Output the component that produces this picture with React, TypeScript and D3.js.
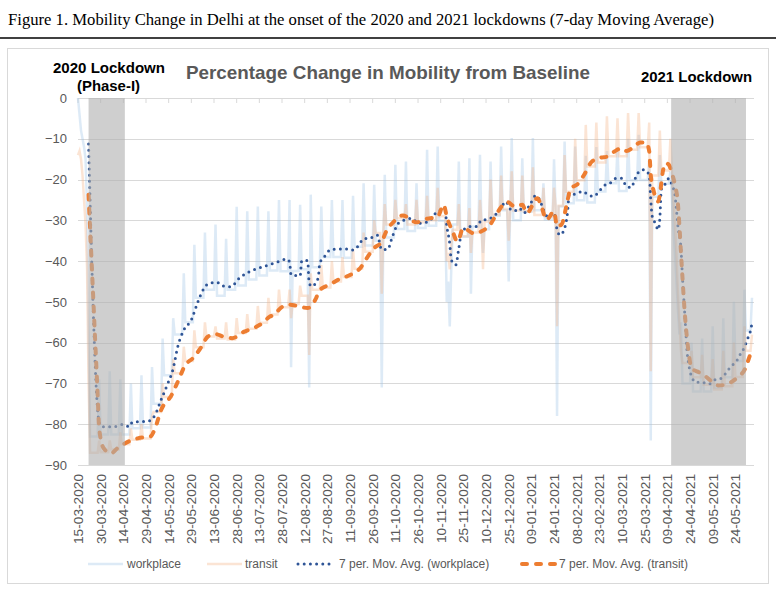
import React, { useRef, useLayoutEffect } from 'react';
import * as d3 from 'd3';

// day 0 = 15-03-2020 (a Sunday), last day = 04-06-2021
const START = new Date(2020, 2, 15);
const LAST_DAY = 446;

// weekly readings, one entry per week (Sunday value, then the Mon-Sat level)
const workplaceSunday = [
  0, -60, -69, -67, -69, -70, -68, -66, -59, -54, -43, -36, -33, -31, -34.5, -26.7,
  -27.8, -26.6, -27.8, -25, -25, -26.2, -23.7, -26.6, -25, -25, -24, -20.9, -21.3, -18.8, -16.4, -15.6,
  -20.9, -12.7, -11.9, -45, -15.6, -14.8, -13.9, -15.6, -11.9, -9.8, -14.8, -9.8, -20.9, -15, -10.7, -11.9,
  -14.2, -12, -13, -12, -10, -9, -15, -14, -18, -55, -60, -59, -56, -54, -50, -47,
];
const workplaceWeekday = [
  -10, -83, -82.5, -82.5, -82.5, -81, -80.8, -75, -68, -58, -55, -49, -47, -48.5, -47, -46,
  -44.5, -43.5, -42.3, -42.5, -42.4, -42, -41.5, -39, -39, -39.2, -36.5, -36.2, -35, -34.2, -32.1, -32.6,
  -31.9, -31.3, -30.1, -31, -34, -31.5, -32.2, -28.9, -27.5, -30, -27.9, -27.5, -29.8, -26.6, -25.8, -25.1,
  -25.6, -22.9, -20.9, -22.8, -20.2, -20.1, -24.2, -21, -22, -70, -72, -72, -71, -68.5, -64.5, -57,
];
const transitSunday = [
  -14, -70, -84, -84, -82, -81, -80, -78, -70, -64, -61, -57, -55, -56, -55, -54,
  -53, -51, -49, -47, -47, -46, -43, -41, -40, -39, -37, -33, -30, -26, -25, -26,
  -25, -24, -22, -38, -26, -27, -25, -20, -19, -18, -19, -17, -22, -22, -14, -10,
  -6.6, -6, -4.5, -5, -3.7, -3.7, -6, -8, -10, -62, -62, -63, -64, -62, -60, -56,
];
const transitWeekday = [
  -14, -87, -86.9, -86.2, -84.9, -83.8, -83.5, -77, -73.3, -67.5, -64.5, -61.1, -58.5, -59, -59.2, -57.6,
  -56.6, -55.1, -53.1, -51.3, -50.5, -48.5, -47, -46.5, -45, -43.9, -41.9, -37.7, -33.1, -31, -29.5, -31,
  -30.5, -30, -29, -32.3, -33.9, -33, -30.3, -28.6, -27.2, -27.6, -27.8, -28.7, -29, -26.4, -23, -20.2,
  -16.8, -15.8, -14.3, -14.3, -12.7, -12.1, -19, -17.8, -18, -65, -68.5, -70.3, -71.5, -70.7, -68.4, -62,
];

// days that break the weekly pattern: [day, workplace, transit]
const specialDays: [number, number, number][] = [
  [1, -4, -13], [2, -8, -15], [3, -10, -19], [4, -12, -25], [5, -15, -31], [6, -27, -42],
  [141, -66, -54], [153, -71, -63], [201, -71, -48],
  [244, -50, -40], [245, -45, -38], [246, -56, -42], [247, -42, -36],
  [260, -48, -38], [268, -38, -42], [285, -45, -35], [317, -78, -56], [379, -84, -67],
  [393, -25, -18], [394, -32, -25], [395, -38, -30], [396, -45, -38], [397, -52, -48], [398, -58, -55],
  [446, -49, -58],
];

// 7 period moving averages as drawn: [day, value]
const workplaceAvg: [number, number][] = [
  [7, -11.3], [14, -79.5], [16, -80.6], [24, -80.6], [30, -80], [34, -80.6], [36, -79.5], [47, -79.2],
  [51, -77.7], [55, -74], [59, -70.4], [63, -66.3], [66, -61], [70, -56.9], [75, -54.4], [79, -50.3],
  [83, -46.9], [87, -45.4], [92, -45.2], [96, -46.1], [101, -46.3], [107, -44.1], [116, -42.2], [124, -41.2],
  [133, -40.1], [138, -39.5], [140, -40.2], [141, -43.4], [147, -43.6], [148, -40], [150, -39.7], [152, -40],
  [153, -45.5], [155, -46.2], [158, -44.8], [159, -44], [160, -40.5], [164, -38.5], [167, -37.2], [178, -37],
  [182, -37.3], [186, -36], [189, -34.5], [193, -34.4], [198, -33.6], [201, -37.2], [205, -37.1], [208, -34],
  [212, -30.7], [216, -29.9], [221, -29.5], [225, -30.7], [229, -30.6], [233, -30], [236, -28.5], [241, -27.4],
  [243, -27.7], [244, -31.2], [246, -35.8], [247, -39.7], [250, -40.9], [252, -36.8], [254, -32.7], [260, -31.5],
  [264, -31.5], [267, -29.9], [270, -29.8], [276, -28.7], [280, -26.9], [283, -25.4], [286, -27.2], [289, -27.7],
  [292, -27], [295, -28.2], [299, -26.2], [303, -23.9], [306, -25.4], [308, -27.4], [311, -29.1], [315, -28.1],
  [317, -32.3], [319, -33.6], [322, -31.9], [324, -27.8], [325, -23.7], [329, -23.6], [334, -22.9], [337, -23.6],
  [341, -24.1], [345, -22.8], [348, -21.5], [352, -20.9], [356, -19.7], [360, -19.7], [362, -21.1], [366, -22],
  [368, -20.5], [370, -18.6], [374, -17.6], [378, -18.8], [379, -25], [380, -29.1], [382, -30.7], [384, -32.3],
  [385, -29.5], [386, -22.4], [389, -20.9], [391, -19.7], [393, -21.3], [395, -23.7], [396, -27.4], [397, -31.5],
  [399, -37], [400, -44], [401, -50], [402, -56], [403, -62], [404, -65], [405, -67], [406, -68.3],
  [409, -69.7], [413, -69.7], [417, -70.2], [422, -69], [426, -68.7], [429, -67.3], [432, -65.9], [436, -64.4],
  [438, -63], [441, -61.1], [443, -59.1], [445, -57.1], [446, -55.2],
];
const transitAvg: [number, number][] = [
  [7, -23.7], [8, -31.8], [9, -40.1], [10, -48.3], [11, -56.5], [12, -64.6], [13, -72.8], [14, -81],
  [17, -85.9], [22, -87.1], [26, -85.9], [31, -84.7], [40, -83.4], [48, -83], [51, -81], [55, -76.5],
  [62, -72.8], [66, -69.6], [71, -65.5], [76, -63.8], [81, -61.4], [86, -58.5], [91, -57.9], [96, -58.5],
  [102, -58.9], [110, -57.3], [118, -56.1], [122, -55.2], [127, -53.6], [130, -53.2], [134, -51.5], [140, -50.7],
  [145, -51], [152, -51.5], [157, -49.5], [160, -47.1], [167, -45.7], [173, -44.4], [180, -43.4], [187, -41.6],
  [191, -39.3], [196, -36.8], [201, -35.2], [204, -32.7], [209, -30.3], [215, -28.8], [224, -30.5], [231, -29.6],
  [238, -29.1], [242, -26.2], [244, -29.1], [248, -32.8], [251, -35.2], [255, -31.9], [262, -33.2], [267, -32.7],
  [273, -30.9], [278, -27.8], [284, -25.5], [289, -26.6], [294, -26.2], [297, -28.2], [304, -24.6], [307, -27],
  [310, -29.9], [315, -27.8], [317, -31.5], [320, -31], [324, -25], [326, -22.1], [330, -21.3], [335, -18.8],
  [340, -15.6], [346, -14.6], [350, -14.4], [355, -13.1], [360, -12.3], [363, -13], [368, -11.9], [372, -10.9],
  [376, -10.9], [378, -13.1], [379, -18.8], [381, -22.9], [384, -25.4], [385, -23.7], [387, -18], [389, -16],
  [391, -16.4], [393, -18.4], [395, -21.3], [397, -26], [398, -31.5], [399, -38], [400, -44], [401, -50],
  [402, -55], [403, -59], [404, -62.2], [406, -66.3], [410, -67.1], [414, -67.9], [418, -69.1], [424, -70.5],
  [428, -70.3], [433, -69.5], [437, -68.3], [441, -66.7], [444, -63.8], [446, -61.4],
];

// shaded lockdown periods, in days
const lockdowns: [number, number][] = [[7, 31], [392.5, 442]];
const yTicks = d3.range(0, -91, -10);
const xTicks = d3.range(0, 436, 15);

const FONT = '"Liberation Sans", Arial, sans-serif';
const GREY = '#595959';

function daily(sunday: number[], weekday: number[], col: 1 | 2): [number, number][] {
  return d3.range(0, LAST_DAY + 1).map((d) => {
    const special = specialDays.find((s) => s[0] === d);
    if (special) return [d, special[col]];
    const w = Math.floor(d / 7);
    return [d, d % 7 === 0 ? sunday[w] : weekday[w]];
  });
}

const App: React.FC = () => {
  const ref = useRef<SVGSVGElement>(null);

  useLayoutEffect(() => {
    const svg = d3.select(ref.current);
    svg.selectAll('*').remove();

    const left = 78;
    const right = 754;
    const x = d3.scaleLinear().domain([0, LAST_DAY]).range([left, 752]);
    const y = d3.scaleLinear().domain([-90, 0]).range([465, 98]);

    // caption above the chart
    svg
      .append('text')
      .attr('x', 8)
      .attr('y', 25)
      .attr('font-family', '"Liberation Serif", "Times New Roman", serif')
      .attr('font-size', 16)
      .attr('textLength', 706)
      .attr('lengthAdjust', 'spacingAndGlyphs')
      .text('Figure 1. Mobility Change in Delhi at the onset of the 2020 and 2021 lockdowns (7-day Moving Average)');
    svg.append('line').attr('x1', 0).attr('x2', 776).attr('y1', 38).attr('y2', 38).attr('stroke', '#000').attr('stroke-width', 1.3);

    svg
      .append('rect')
      .attr('x', 7.5)
      .attr('y', 48.5)
      .attr('width', 761)
      .attr('height', 535)
      .attr('fill', '#fff')
      .attr('stroke', '#d9d9d9');

    // gridlines
    svg
      .append('g')
      .selectAll('line')
      .data(yTicks)
      .enter()
      .append('line')
      .attr('x1', left)
      .attr('x2', right)
      .attr('y1', (d) => Math.round(y(d)) + 0.5)
      .attr('y2', (d) => Math.round(y(d)) + 0.5)
      .attr('stroke', '#d9d9d9');

    // small ticks hanging under the top axis
    svg
      .append('g')
      .selectAll('line')
      .data(xTicks)
      .enter()
      .append('line')
      .attr('x1', (d) => x(d))
      .attr('x2', (d) => x(d))
      .attr('y1', 98)
      .attr('y2', 103)
      .attr('stroke', '#d9d9d9');

    const line = d3
      .line<[number, number]>()
      .x((d) => x(d[0]))
      .y((d) => y(d[1]));
    const smooth = d3
      .line<[number, number]>()
      .x((d) => x(d[0]))
      .y((d) => y(d[1]))
      .curve(d3.curveMonotoneX);

    svg
      .append('path')
      .attr('d', line(daily(workplaceSunday, workplaceWeekday, 1)))
      .attr('fill', 'none')
      .attr('stroke', '#9dc3e6')
      .attr('stroke-opacity', 0.35)
      .attr('stroke-width', 2.5);
    svg
      .append('path')
      .attr('d', line(daily(transitSunday, transitWeekday, 2)))
      .attr('fill', 'none')
      .attr('stroke', '#f4b183')
      .attr('stroke-opacity', 0.35)
      .attr('stroke-width', 2.5);

    svg
      .append('path')
      .attr('d', smooth(workplaceAvg))
      .attr('fill', 'none')
      .attr('stroke', '#2f5597')
      .attr('stroke-width', 3)
      .attr('stroke-linecap', 'round')
      .attr('stroke-dasharray', '0 6.2');
    svg
      .append('path')
      .attr('d', smooth(transitAvg))
      .attr('fill', 'none')
      .attr('stroke', '#ed7d31')
      .attr('stroke-width', 4)
      .attr('stroke-linecap', 'round')
      .attr('stroke-dasharray', '5 9');

    // lockdown shading sits over the lines
    svg
      .append('g')
      .selectAll('rect')
      .data(lockdowns)
      .enter()
      .append('rect')
      .attr('x', (d) => x(d[0]))
      .attr('width', (d) => x(d[1]) - x(d[0]))
      .attr('y', y(0))
      .attr('height', y(-90) - y(0))
      .attr('fill', '#afafaf')
      .attr('fill-opacity', 0.6);

    // y axis labels
    const yAxis = svg
      .append('g')
      .attr('transform', `translate(${left},0)`)
      .call(d3.axisLeft(y).tickValues(yTicks).tickSize(0).tickPadding(11));
    yAxis.select('.domain').remove();
    yAxis.selectAll('text').attr('font-family', FONT).attr('font-size', 13).attr('fill', GREY);

    // rotated date labels
    const fmt = d3.timeFormat('%d-%m-%Y');
    svg
      .append('g')
      .selectAll('text')
      .data(xTicks)
      .enter()
      .append('text')
      .attr('transform', (d) => `translate(${x(d) + 5},474) rotate(-90)`)
      .attr('text-anchor', 'end')
      .attr('font-family', FONT)
      .attr('font-size', 13.7)
      .attr('fill', GREY)
      .text((d) => fmt(d3.timeDay.offset(START, d)));

    // titles
    svg
      .append('text')
      .attr('x', 186)
      .attr('y', 79)
      .attr('font-family', FONT)
      .attr('font-weight', 'bold')
      .attr('font-size', 19)
      .attr('fill', GREY)
      .attr('textLength', 404)
      .attr('lengthAdjust', 'spacingAndGlyphs')
      .text('Percentage Change in Mobility from Baseline');

    const notes: [string, number, number, number][] = [
      ['2020 Lockdown', 53, 73, 112],
      ['(Phase-I)', 77, 91, 63],
      ['2021 Lockdown', 641, 82, 111],
    ];
    svg
      .append('g')
      .selectAll('text')
      .data(notes)
      .enter()
      .append('text')
      .attr('x', (d) => d[1])
      .attr('y', (d) => d[2])
      .attr('textLength', (d) => d[3])
      .attr('lengthAdjust', 'spacingAndGlyphs')
      .attr('font-family', FONT)
      .attr('font-weight', 'bold')
      .attr('font-size', 15)
      .attr('fill', '#000')
      .text((d) => d[0]);

    // legend
    const legend = svg.append('g').attr('font-family', FONT).attr('font-size', 12).attr('fill', GREY);
    const ly = 564;
    const items = [
      { x1: 88, x2: 123, tx: 127, label: 'workplace', stroke: '#9dc3e6', op: 0.35, w: 2.5, dash: null },
      { x1: 207, x2: 242, tx: 245, label: 'transit', stroke: '#f4b183', op: 0.35, w: 2.5, dash: null },
      { x1: 298, x2: 330, tx: 339, label: '7 per. Mov. Avg. (workplace)', stroke: '#2f5597', op: 1, w: 3, dash: '0 6.2' },
      { x1: 522, x2: 556, tx: 559, label: '7 per. Mov. Avg. (transit)', stroke: '#ed7d31', op: 1, w: 4, dash: '5 9' },
    ];
    items.forEach((it) => {
      legend
        .append('line')
        .attr('x1', it.x1)
        .attr('x2', it.x2)
        .attr('y1', ly)
        .attr('y2', ly)
        .attr('stroke', it.stroke)
        .attr('stroke-opacity', it.op)
        .attr('stroke-width', it.w)
        .attr('stroke-linecap', it.dash ? 'round' : 'butt')
        .attr('stroke-dasharray', it.dash);
      legend
        .append('text')
        .attr('x', it.tx)
        .attr('y', ly)
        .attr('dy', '0.35em')
        .text(it.label);
    });
  }, []);

  return <svg ref={ref} width={776} height={592} style={{ position: 'absolute', left: 0, top: 0, background: '#fff' }} />;
};

export default App;
